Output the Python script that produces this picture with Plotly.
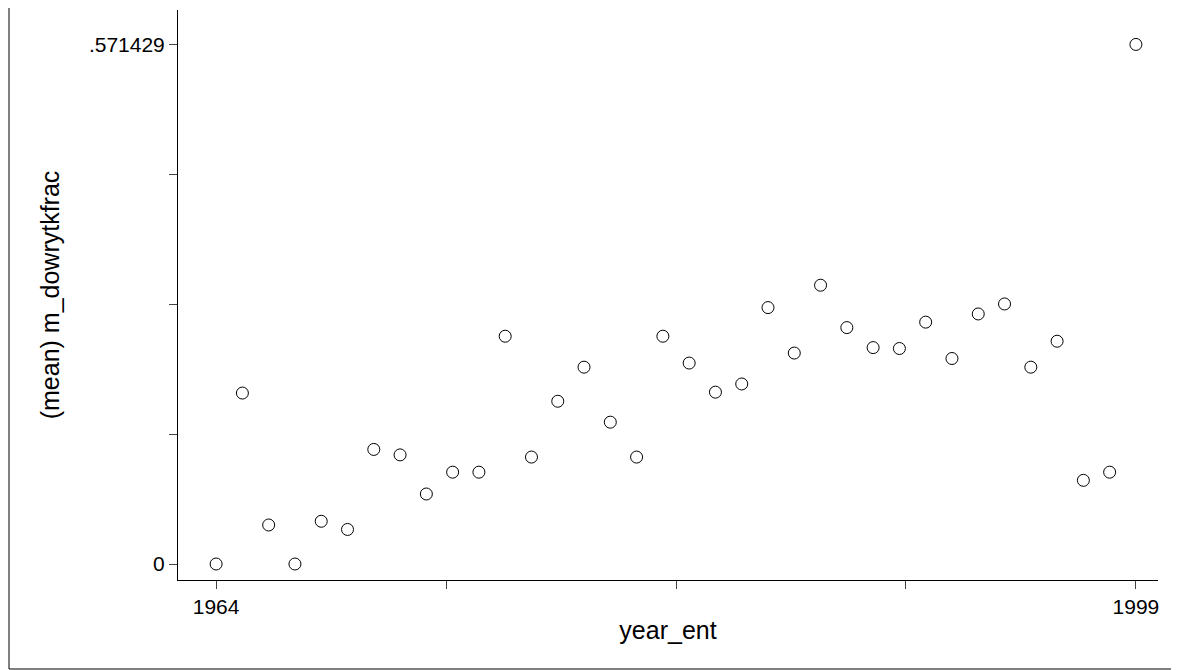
import plotly.graph_objects as go

years = list(range(1964, 2000))
means = [0, 0.188, 0.0429, 0, 0.047, 0.038, 0.126, 0.120, 0.077, 0.101,
         0.101, 0.2505, 0.1176, 0.179, 0.2165, 0.156, 0.1176, 0.2505, 0.221, 0.189,
         0.198, 0.282, 0.232, 0.3066, 0.260, 0.238, 0.237, 0.266, 0.226, 0.275,
         0.286, 0.2165, 0.245, 0.092, 0.101, 0.571429]

ytick_vals = [0, 0.142857, 0.285714, 0.428571, 0.571429]
ytick_text = ["0", "", "", "", ".571429"]
xtick_vals = [1964, 1972.75, 1981.5, 1990.25, 1999]
xtick_text = ["1964", "", "", "", "1999"]

fig = go.Figure()
fig.add_trace(go.Scatter(
    x=years, y=means, mode="markers",
    marker=dict(symbol="circle-open", size=12, color="black", line=dict(width=1)),
    showlegend=False))

# page sits 8px in from the window edge, so shrink and shift to line up
W, H = 1171, 662
l, r, t, b = 170, 21, 2, 90
pw, ph = W - l - r, H - t - b

fig.update_layout(
    width=W, height=H,
    margin=dict(l=l, r=r, t=t, b=b),
    plot_bgcolor="white", paper_bgcolor="white",
    font=dict(family="Liberation Sans, Arial", size=21, color="black"),
    xaxis=dict(range=[1962.55, 1999.84], tickvals=xtick_vals, ticktext=xtick_text,
               ticks="outside", ticklen=8, showgrid=False, zeroline=False,
               showline=True, linecolor="black", linewidth=1, tickfont=dict(size=21),
               title=dict(text="year_ent", standoff=4)),
    yaxis=dict(range=[-0.0176, 0.6093], tickvals=ytick_vals, ticktext=ytick_text,
               ticks="outside", ticklen=8, showgrid=False, zeroline=False,
               showline=True, linecolor="black", linewidth=1, tickfont=dict(size=21),
               title=dict(text="(mean) m_dowrytkfrac", standoff=22)),
    shapes=[dict(type="rect", xref="paper", yref="paper",
                 x0=-(l - 1) / pw, x1=1 + (r - 1) / pw,
                 y0=-(b - 1) / ph, y1=1 + (t + 6) / ph,
                 line=dict(color="black", width=1))],
)

fig.write_html("out.html")
